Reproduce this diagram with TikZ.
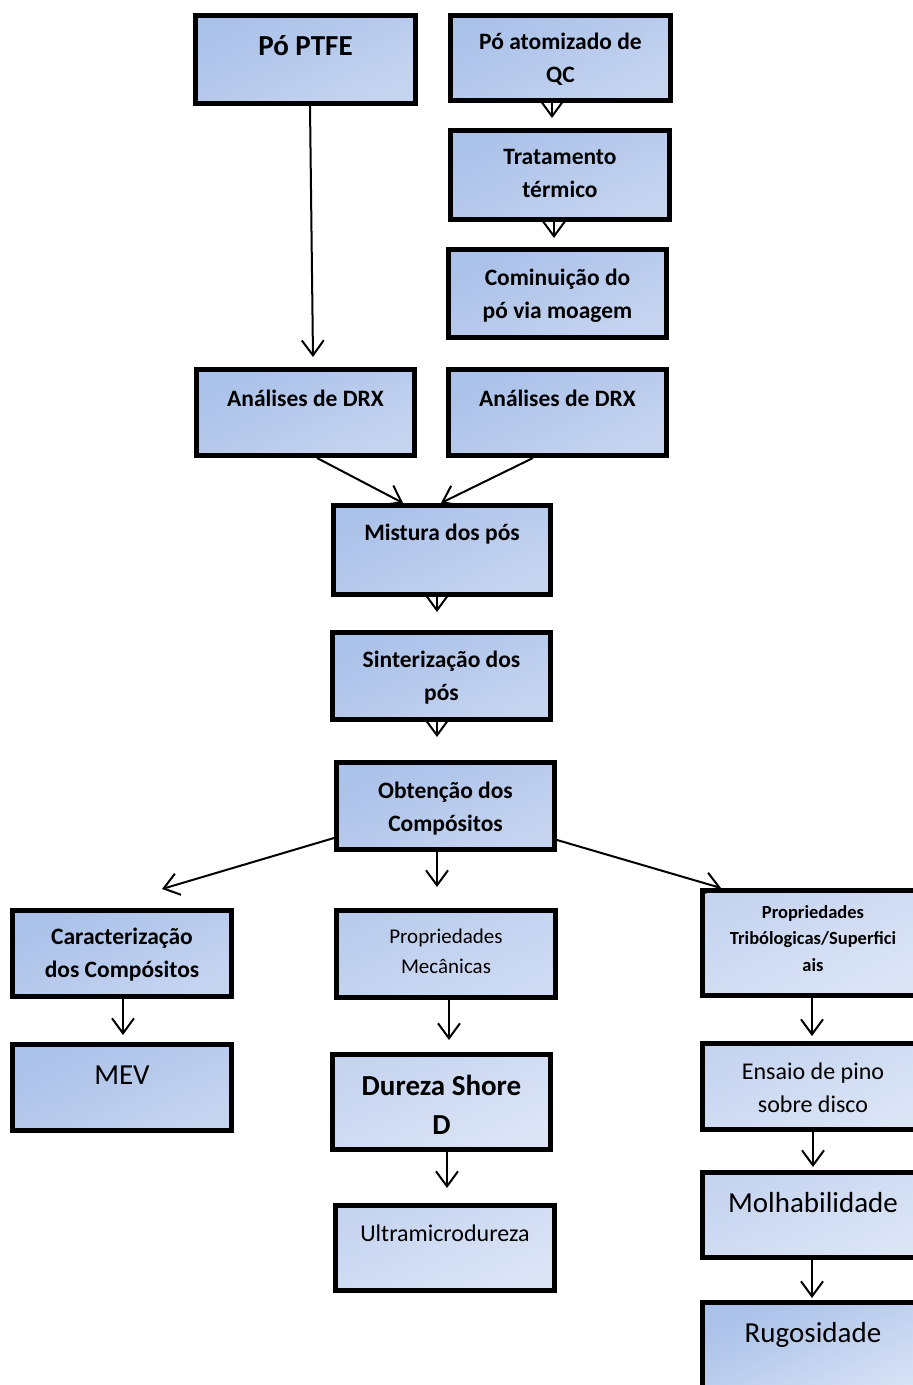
\documentclass[tikz,border=0pt]{standalone}
\usepackage{fontspec}
\setmainfont{Carlito}
\usetikzlibrary{arrows.meta,calc}
\definecolor{dA}{RGB}{170,193,233}
\definecolor{lA}{RGB}{198,212,240}
\definecolor{dB}{RGB}{186,204,237}
\definecolor{lB}{RGB}{206,219,243}
\definecolor{dC}{RGB}{198,212,240}
\definecolor{lC}{RGB}{220,229,246}
\newcommand\stackl[1]{\vtop{\halign{\hfil##\hfil\cr#1\crcr}}}
\begin{document}
\begin{tikzpicture}[x=1pt,y=-1pt,
  boxbase/.style={draw=black, line width=5pt, inner sep=0pt, anchor=north west, align=center},
  boxA/.style={boxbase, top color=dA, bottom color=lA, shading angle=25},
  boxB/.style={boxbase, top color=dB, bottom color=lB, shading angle=25},
  boxC/.style={boxbase, top color=dC, bottom color=lC, shading angle=25},
  boxR/.style={boxbase, top color=dA, bottom color=lC, shading angle=25},
  fbig/.style={font=\bfseries\fontsize{29}{39}\selectfont},
  fmain/.style={font=\bfseries\fontsize{23.5}{33}\selectfont},
  fsmall/.style={font=\bfseries\fontsize{18.5}{26.5}\selectfont},
  rbig/.style={font=\fontsize{29}{39}\selectfont},
  rmain/.style={font=\fontsize{24}{33}\selectfont},
  rsmall/.style={font=\fontsize{21}{30}\selectfont},
  arr/.style={line width=2pt, -{Straight Barb[length=15pt,width=22pt]}}
]
\useasboundingbox (0,0) rectangle (913,1385);
\clip (0,0) rectangle (913,1385);

% boxes
\node[boxA, fbig, minimum width=220, text height=39.5, text depth=48.5] (ptfe) at (193,13) {Pó PTFE};
\node[boxA, fmain, minimum width=220, text height=33.5, text depth=51.5] (qc) at (448,13) {\stackl{Pó atomizado de\cr QC}};
\node[boxA, fmain, minimum width=219, text height=33.5, text depth=55.5] (trat) at (448,128) {\stackl{Tratamento\cr térmico}};
\node[boxA, fmain, minimum width=218, text height=35.5, text depth=52.5] (comin) at (446,247) {\stackl{Cominuição do\cr pó via moagem}};
\node[boxA, fmain, minimum width=218, text height=36.5, text depth=49.5] (drxL) at (194,367) {Análises de DRX};
\node[boxA, fmain, minimum width=218, text height=36.5, text depth=49.5] (drxR) at (446,367) {Análises de DRX};
\node[boxA, fmain, minimum width=217, text height=34.5, text depth=54.5] (mist) at (331,503) {Mistura dos pós};
\node[boxA, fmain, minimum width=218, text height=34.5, text depth=52.5] (sint) at (330,630) {\stackl{Sinterização dos\cr pós}};
\node[boxA, fmain, minimum width=218, text height=35.5, text depth=51.5] (obt) at (334,760) {\stackl{Obtenção dos\cr Compósitos}};
\node[boxA, fmain, minimum width=219, text height=33.5, text depth=52.5] (carac) at (10,908) {\stackl{Caracterização\cr dos Compósitos}};
\node[boxA, rbig, minimum width=219, text height=39.5, text depth=46.5] (mev) at (10,1042) {MEV};
\node[boxB, rsmall, minimum width=219, text height=32.5, text depth=54.5] (propM) at (334,908) {\stackl{Propriedades\cr Mecânicas}};
\node[boxC, fbig, minimum width=218, text height=40.5, text depth=54.5] (dureza) at (330,1052) {\stackl{Dureza Shore\cr D}};
\node[boxC, rmain, minimum width=219, text height=35.5, text depth=49.5] (ultra) at (333,1203) {Ultramicrodureza};
\node[boxC, fsmall, minimum width=221, text height=27.5, text depth=77.5] (trib) at (700,888) {\stackl{Propriedades\cr Tribólogicas/Superfici\cr ais}};
\node[boxC, rmain, minimum width=221, text height=35.5, text depth=50.5] (ensaio) at (700,1041) {\stackl{Ensaio de pino\cr sobre disco}};
\node[boxC, rbig, minimum width=221, text height=39.5, text depth=45.5] (molh) at (700,1170) {Molhabilidade};
\node[boxR, rbig, minimum width=221, text height=39.5, text depth=75.5] (rugo) at (700,1300) {Rugosidade};

% arrow tips
\coordinate (t1) at (313,357);
\coordinate (t2) at (552,118);
\coordinate (t3) at (554,238);
\coordinate (t4) at (403,503);
\coordinate (t5) at (441,503);
\coordinate (t6) at (437,612);
\coordinate (t7) at (437,737);
\coordinate (t8) at (162,889);
\coordinate (t9) at (437,887);
\coordinate (t10) at (721,888);
\coordinate (t11) at (123,1035);
\coordinate (t12) at (449,1040);
\coordinate (t13) at (447,1188);
\coordinate (t14) at (812,1036);
\coordinate (t15) at (813,1167);
\coordinate (t16) at (812,1298);

% connectors
\draw[arr] ($(ptfe.south)+(4.5,0)$) -- (t1);
\draw[arr] ($(qc.south)+(-8.5,0)$) -- (t2);
\draw[arr] ($(trat.south)+(-6,0)$) -- (t3);
\draw[arr] ($(drxL.south)+(11.5,0)$) -- (t4);
\draw[arr] ($(drxR.south)+(-24.5,0)$) -- (t5);
\draw[arr] ($(mist.south)+(-5,0)$) -- (t6);
\draw[arr] ($(sint.south)+(-4.5,0)$) -- (t7);
\draw[arr] ($(obt.west)+(0,32)$) -- (t8);
\draw[arr] ($(obt.south)+(-8.5,0)$) -- (t9);
\draw[arr] ($(obt.east)+(0,34)$) -- (t10);
\draw[arr] ($(carac.south)+(1,0)$) -- (t11);
\draw[arr] ($(propM.south)+(3,0)$) -- (t12);
\draw[arr] ($(dureza.south)+(5.5,0)$) -- (t13);
\draw[arr] ($(trib.south)+(-1,0)$) -- (t14);
\draw[arr] (ensaio.south) -- (t15);
\draw[arr] ($(molh.south)+(-1,0)$) -- (t16);
\end{tikzpicture}
\end{document}
